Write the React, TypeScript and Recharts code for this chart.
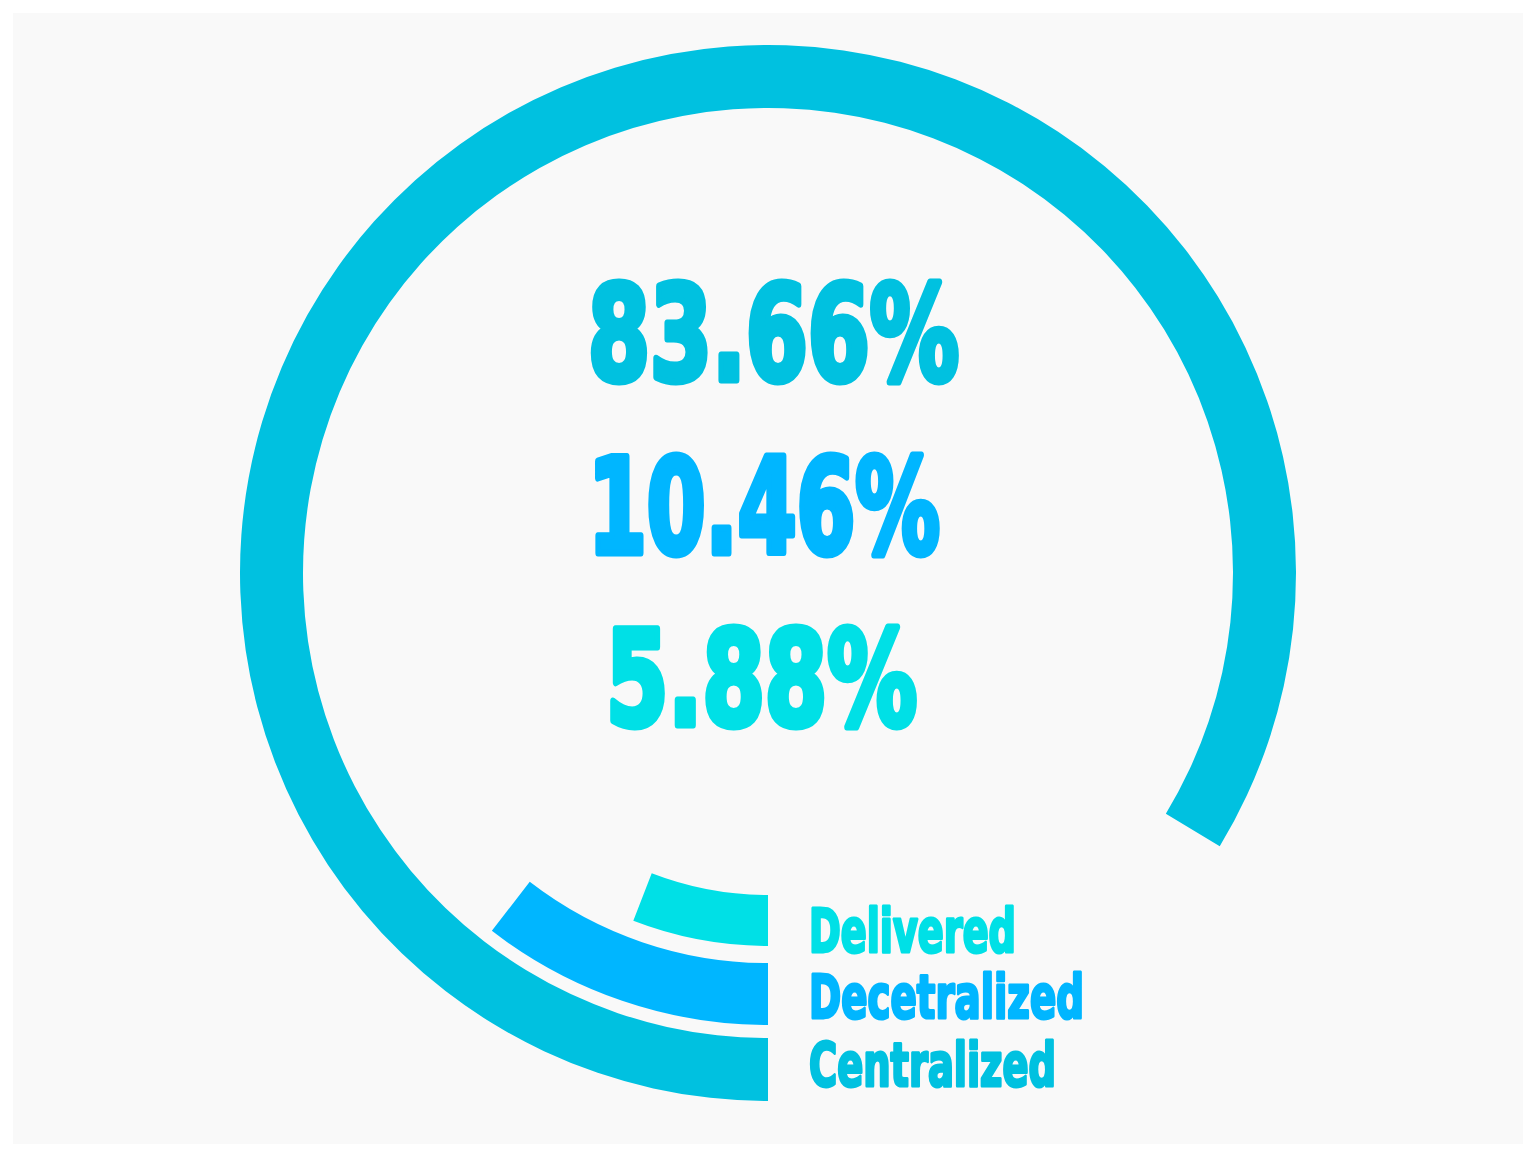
import React from "react";
import { PieChart, Pie, Cell } from "recharts";

const categories = ["Centralized", "Decetralized", "Delivered"];
const values = [83.66, 10.46, 5.88];
const colors = ["#00C1E0", "#00B6FF", "#00E0E6"];
const legendOrder = ["Delivered", "Decetralized", "Centralized"];

const W = 1537;
const H = 1156;
const CX = 768;
const CY = 573;
const rings = [
  { inner: 465, outer: 528 },
  { inner: 390, outer: 452 },
  { inner: 322, outer: 373 },
];

const pctText = [
  { x: 588, y: 380, len: 371 },
  { x: 588, y: 553, len: 352 },
  { x: 606, y: 725, len: 311 },
];
const legendText: Record<string, { y: number; len: number }> = {
  Delivered: { y: 952, len: 207 },
  Decetralized: { y: 1018, len: 275 },
  Centralized: { y: 1086, len: 247 },
};

const FONT = "'DejaVu Sans Condensed', 'DejaVu Sans', sans-serif";

export default function App() {
  return (
    <div style={{ position: "absolute", left: 0, top: 0, width: W, height: H, background: "#ffffff" }}>
      <div style={{ position: "absolute", left: 13, top: 13, width: 1510, height: 1131, background: "#F9F9F9" }} />
      <div style={{ position: "absolute", left: 0, top: 0 }}>
        <PieChart width={W} height={H} margin={{ top: 0, right: 0, bottom: 0, left: 0 }}>
          {categories.map((c, i) => (
            <Pie
              key={c}
              data={[
                { name: c, value: values[i] },
                { name: "rest", value: 100 - values[i] },
              ]}
              dataKey="value"
              cx={CX}
              cy={CY}
              innerRadius={rings[i].inner}
              outerRadius={rings[i].outer}
              startAngle={270}
              endAngle={-90}
              stroke="none"
              isAnimationActive={false}
            >
              <Cell fill={colors[i]} />
              <Cell fill="transparent" />
            </Pie>
          ))}
        </PieChart>
      </div>
      <svg width={W} height={H} style={{ position: "absolute", left: 0, top: 0, pointerEvents: "none" }}>
        {values.map((v, i) => (
          <text
            key={i}
            x={pctText[i].x}
            y={pctText[i].y}
            fill={colors[i]}
            stroke={colors[i]}
            strokeWidth={7}
            strokeLinejoin="round"
            fontFamily={FONT}
            fontWeight="bold"
            fontSize={131}
            textLength={pctText[i].len}
            lengthAdjust="spacingAndGlyphs"
          >
            {v.toFixed(2) + "%"}
          </text>
        ))}
        {legendOrder.map((name) => {
          const idx = categories.indexOf(name);
          const t = legendText[name];
          return (
            <text
              key={name}
              x={809}
              y={t.y}
              fill={colors[idx]}
              stroke={colors[idx]}
              strokeWidth={3}
              strokeLinejoin="round"
              fontFamily={FONT}
              fontWeight="bold"
              fontSize={60}
              textLength={t.len}
              lengthAdjust="spacingAndGlyphs"
            >
              {name}
            </text>
          );
        })}
      </svg>
    </div>
  );
}
